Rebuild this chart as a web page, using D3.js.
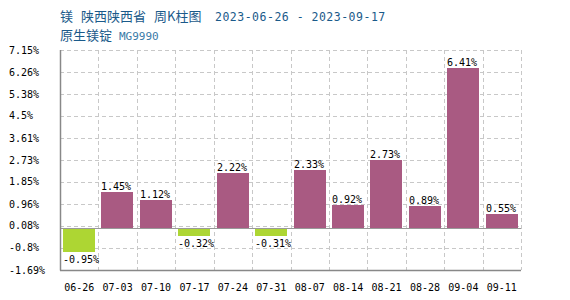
<!DOCTYPE html>
<html>
<head>
<meta charset="utf-8">
<script src="https://cdn.jsdelivr.net/npm/d3@7"></script>
<style>
body { margin: 0; background: #fff; }
svg { display: block; }
</style>
</head>
<body>
<div id="chart"></div>
<script>
// data
const weeks = ['06-26', '07-03', '07-10', '07-17', '07-24', '07-31', '08-07', '08-14', '08-21', '08-28', '09-04', '09-11'];
const changes = [-0.95, 1.45, 1.12, -0.32, 2.22, -0.31, 2.33, 0.92, 2.73, 0.89, 6.41, 0.55];
const yTicks = [7.15, 6.26, 5.38, 4.5, 3.61, 2.73, 1.85, 0.96, 0.08, -0.8, -1.69];
const titleParts = ['镁', '陕西陕西省', '周K柱图'];
const titleDates = '2023-06-26 - 2023-09-17';
const subName = '原生镁锭';
const subCode = 'MG9990';

const W = 570, H = 300;
const margin = {left: 60, right: 49, top: 50, bottom: 30};
const monoFont = '"DejaVu Sans Mono", "Liberation Mono", monospace';
const cjkFont = '"Noto Sans CJK SC", sans-serif';

const svg = d3.select('#chart').append('svg')
    .attr('width', W).attr('height', H);

const x = d3.scaleBand()
    .domain(weeks)
    .range([margin.left, W - margin.right])
    .paddingInner(0.16).paddingOuter(0.08);

const y = d3.scaleLinear()
    .domain([-1.69, 7.15])
    .range([H - margin.bottom, margin.top]);

// band boundaries for vertical grid lines
const step = (W - margin.right - margin.left) / weeks.length;
const grid = svg.append('g')
    .attr('stroke', '#c8c8c8')
    .attr('stroke-dasharray', '4,3')
    .attr('stroke-width', 1);

grid.selectAll('line.h')
    .data(yTicks)
    .enter().append('line')
    .attr('x1', margin.left).attr('x2', W - margin.right)
    .attr('y1', d => Math.round(y(d)) + 0.5)
    .attr('y2', d => Math.round(y(d)) + 0.5);

grid.selectAll('line.v')
    .data(d3.range(1, weeks.length + 1))
    .enter().append('line')
    .attr('x1', i => Math.round(margin.left + i * step) + 0.5)
    .attr('x2', i => Math.round(margin.left + i * step) + 0.5)
    .attr('y1', margin.top).attr('y2', H - margin.bottom);

// bars
svg.append('g').selectAll('rect')
    .data(changes)
    .enter().append('rect')
    .attr('x', (d, i) => Math.round(x(weeks[i])))
    .attr('width', Math.round(x.bandwidth()))
    .attr('y', d => Math.round(y(Math.max(0, d))))
    .attr('height', d => Math.round(Math.abs(y(d) - y(0))))
    .attr('fill', d => d >= 0 ? '#a95a82' : '#add633');

// zero line
svg.append('line')
    .attr('x1', margin.left).attr('x2', W - margin.right)
    .attr('y1', Math.round(y(0)) + 0.5).attr('y2', Math.round(y(0)) + 0.5)
    .attr('stroke', '#999');

// axes lines
svg.append('line')
    .attr('x1', margin.left + 0.5).attr('x2', margin.left + 0.5)
    .attr('y1', margin.top).attr('y2', H - margin.bottom + 0.5)
    .attr('stroke', '#888').attr('stroke-width', 1.5);
svg.append('line')
    .attr('x1', margin.left).attr('x2', W - margin.right)
    .attr('y1', H - margin.bottom + 0.5).attr('y2', H - margin.bottom + 0.5)
    .attr('stroke', '#888').attr('stroke-width', 1.5);

// bar value labels
svg.append('g').selectAll('text')
    .data(changes)
    .enter().append('text')
    .attr('x', (d, i) => Math.round(x(weeks[i])))
    .attr('y', d => d >= 0 ? y(d) - 2 : y(d) + 11)
    .attr('font-family', monoFont)
    .attr('font-size', 10)
    .attr('fill', '#000')
    .text(d => d.toFixed(2) + '%');

// y tick labels
svg.append('g').selectAll('text')
    .data(yTicks)
    .enter().append('text')
    .attr('x', 9)
    .attr('y', d => y(d) + 3.5)
    .attr('font-family', monoFont)
    .attr('font-size', 10)
    .attr('fill', '#000')
    .text(d => d + '%');

// x tick labels
svg.append('g').selectAll('text')
    .data(weeks)
    .enter().append('text')
    .attr('x', d => x(d) + x.bandwidth() / 2)
    .attr('y', H - 9)
    .attr('text-anchor', 'middle')
    .attr('font-family', monoFont)
    .attr('font-size', 10)
    .attr('fill', '#000')
    .text(d => d);

// titles
const titleX = [60, 81, 154];
const t1 = svg.append('text')
    .attr('y', 21)
    .attr('fill', '#1a5a8a');
titleParts.forEach((p, i) => {
    t1.append('tspan').attr('x', titleX[i])
      .attr('font-family', cjkFont).attr('font-size', 13).text(p);
});
t1.append('tspan').attr('x', 215)
  .attr('font-family', monoFont).attr('font-size', 11.5)
  .attr('letter-spacing', 0.5).text(titleDates);

const t2 = svg.append('text')
    .attr('y', 40)
    .attr('fill', '#1a5a8a');
t2.append('tspan').attr('x', 60)
  .attr('font-family', cjkFont).attr('font-size', 13).text(subName);
t2.append('tspan').attr('x', 119)
  .attr('font-family', monoFont).attr('font-size', 11)
  .attr('fill', '#3a7aa8').text(subCode);
</script>
</body>
</html>
